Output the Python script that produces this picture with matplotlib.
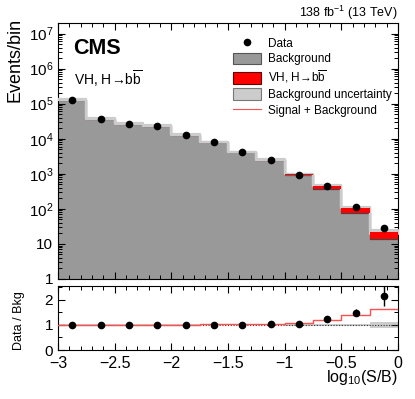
import numpy as np
import matplotlib
matplotlib.use("Agg")
import matplotlib.pyplot as plt
import matplotlib.patches as mpatches
from matplotlib.lines import Line2D
from matplotlib.ticker import FixedLocator, LogLocator, FuncFormatter, NullFormatter, MultipleLocator

plt.rcParams.update({
    "font.family": ["Liberation Sans", "DejaVu Sans"],
    "mathtext.fontset": "custom",
    "mathtext.rm": "Liberation Sans",
    "mathtext.it": "Liberation Sans:italic",
    "mathtext.bf": "Liberation Sans:bold",
    "axes.linewidth": 0.8,
    "axes.unicode_minus": True,
})

# ── data ────────────────────────────────────────────────────────────────
edges = [-3.0, -2.75, -2.5, -2.25, -2.0, -1.75, -1.5, -1.25, -1.0, -0.75, -0.5, -0.25, 0.0]
bkg = [1.3e5, 3.7e4, 2.7e4, 2.35e4, 1.3e4, 8.0e3, 4.1e3, 2.4e3, 900, 380, 78, 13.5]
sig = [195, 92, 120, 165, 156, 144, 115, 120, 81, 76, 30, 8.8]
data = [1.3e5, 3.7e4, 2.7e4, 2.35e4, 1.3e4, 8.0e3, 4.1e3, 2.52e3, 945, 463, 116, 29]
bkg_unc = [0.02, 0.02, 0.02, 0.02, 0.02, 0.02, 0.02, 0.02, 0.025, 0.03, 0.05, 0.13]

edges = np.array(edges)
bkg = np.array(bkg)
sig = np.array(sig)
data = np.array(data)
bkg_unc = np.array(bkg_unc)
centers = 0.5 * (edges[:-1] + edges[1:])
total = bkg + sig

C_BKG = "#999999"
C_UNC = "#cccccc"
C_SIG = "#ff0000"
C_SB = "#ff5050"


def stepy(v):
    return np.append(v, v[-1])


fig = plt.figure(figsize=(4.15, 3.99), dpi=100)
ax = fig.add_axes([58 / 415, 1 - 279 / 399, 340 / 415, 256 / 399])
rax = fig.add_axes([58 / 415, 1 - 350 / 399, 340 / 415, 64 / 399])

# ── top panel ───────────────────────────────────────────────────────────
ax.fill_between(edges, 0.1, stepy(bkg), step="post", color=C_BKG, lw=0, zorder=1)
ax.step(edges, stepy(total), where="post", color=C_SB, lw=0.8, zorder=1.5)
ax.step(edges, stepy(bkg), where="post", color="#444444", lw=0.9, zorder=2)
ax.fill_between(edges, stepy(total * (1 - bkg_unc)), stepy(total * (1 + bkg_unc)),
                step="post", facecolor=C_UNC, edgecolor=C_UNC, lw=1.6, zorder=3)
ax.fill_between(edges, stepy(bkg), stepy(total), step="post", color=C_SIG, lw=0, zorder=4)
ax.plot(centers, data, "o", color="black", ms=4.5, zorder=6)

ax.set_yscale("log")
ax.set_xlim(-3, 0)
ax.set_ylim(1, 2e7)


def log_fmt(v, pos):
    n = int(round(np.log10(v)))
    if n == 0:
        return "1"
    if n == 1:
        return "10"
    return r"$10^{%d}$" % n


ax.yaxis.set_major_locator(LogLocator(base=10, numticks=20))
ax.yaxis.set_minor_locator(LogLocator(base=10, subs=np.arange(2, 10), numticks=20))
ax.yaxis.set_major_formatter(FuncFormatter(log_fmt))
ax.yaxis.set_minor_formatter(NullFormatter())
ax.xaxis.set_major_locator(MultipleLocator(0.5))
ax.xaxis.set_minor_locator(MultipleLocator(0.1))
ax.tick_params(axis="x", labelbottom=False)

for a in (ax, rax):
    a.tick_params(which="both", direction="in", top=True, right=True, labelsize=11)
    a.tick_params(which="major", length=5, width=0.8)
    a.tick_params(which="minor", length=2.8, width=0.7)

# ── ratio panel ─────────────────────────────────────────────────────────
rax.fill_between(edges, stepy(1 - bkg_unc), stepy(1 + bkg_unc), step="post",
                 color=C_UNC, lw=0, zorder=1)
rax.axhline(1.0, color="#333333", ls=(0, (1, 1.5)), lw=0.8, zorder=2)
rax.step(edges, stepy(total / bkg), where="post", color=C_SB, lw=1.0, zorder=3)
rax.errorbar(centers, data / bkg, yerr=np.sqrt(data) / bkg, fmt="o", color="black",
             ms=4.5, elinewidth=1, capsize=0, zorder=4)
rax.set_xlim(-3, 0)
rax.set_ylim(0, 2.55)
rax.yaxis.set_major_locator(FixedLocator([0, 1, 2]))
rax.yaxis.set_minor_locator(FixedLocator([0.5, 1.5, 2.5]))
rax.xaxis.set_major_locator(MultipleLocator(0.5))
rax.xaxis.set_minor_locator(MultipleLocator(0.1))
rax.xaxis.set_major_formatter(FuncFormatter(
    lambda v, p: "0" if abs(v) < 1e-9 else ("%g" % v).replace("-", "\u2212")))
rax.tick_params(axis="x", pad=4, labelsize=11.5)

# ── legend ──────────────────────────────────────────────────────────────
handles = [
    Line2D([], [], marker="o", color="black", ls="none", ms=4.5),
    mpatches.Patch(facecolor=C_BKG, edgecolor="#555555", lw=0.8),
    mpatches.Patch(facecolor=C_SIG, edgecolor="#660000", lw=0.8),
    mpatches.Patch(facecolor=C_UNC, edgecolor="#777777", lw=0.8),
    Line2D([], [], color=C_SB, lw=0.8),
]
labels = ["Data", "Background", r"VH, H→b$\overline{\mathrm{b}}$",
          "Background uncertainty", "Signal + Background"]
fig.legend(handles, labels, loc="upper left", bbox_to_anchor=(233 / 415, 1 - 37 / 399),
           frameon=False, fontsize=8.5, handlelength=2.4, handleheight=1.1,
           labelspacing=0.26, handletextpad=0.55, borderpad=0, borderaxespad=0)

# ── texts ───────────────────────────────────────────────────────────────
fig.text(73 / 415, 1 - 54 / 399, "CMS", fontsize=15.5, fontweight="bold", va="baseline")
fig.text(74 / 415, 1 - 85 / 399, r"VH, H→b$\overline{\mathrm{b}}$", fontsize=10, va="baseline")
fig.text(398 / 415, 1 - 17 / 399, r"138 fb$^{-1}$ (13 TeV)", fontsize=9,
         ha="right", va="baseline")
fig.text(15 / 415, 1 - 60 / 399, "Events/bin", fontsize=13, rotation=90,
         ha="center", va="center")
fig.text(19 / 415, 1 - 321 / 399, "Data / Bkg", fontsize=9, rotation=90,
         ha="center", va="center")
fig.text(398 / 415, 1 - 382 / 399, r"log$_{10}$(S/B)", fontsize=11.5,
         ha="right", va="baseline")

fig.savefig("out.png", dpi=100)
